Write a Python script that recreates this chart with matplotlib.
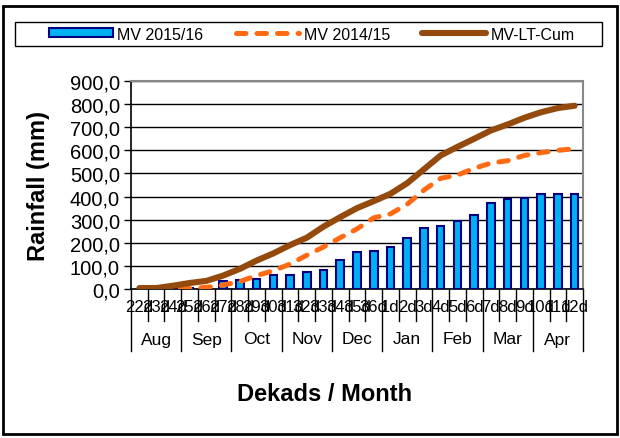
import matplotlib
matplotlib.use("Agg")
import matplotlib.pyplot as plt
from matplotlib.patches import Rectangle, Patch
from matplotlib.lines import Line2D
import matplotlib.transforms as mtrans

plt.rcParams['font.family'] = ['Liberation Sans', 'DejaVu Sans']

# dekads and months
dekads = ['22d', '23d', '24d', '25d', '26d', '27d', '28d', '29d', '30d',
          '31d', '32d', '33d', '34d', '35d', '36d', '1d', '2d', '3d',
          '4d', '5d', '6d', '7d', '8d', '9d', '10d', '11d', '12d']
months = ['Aug', 'Sep', 'Oct', 'Nov', 'Dec', 'Jan', 'Feb', 'Mar', 'Apr']

# cumulative rainfall (mm)
mv_2015 = [0, 0, 2, 3, 6, 33, 39, 44, 61, 61, 72, 84, 125, 158, 164,
           181, 222, 262, 274, 296, 320, 371, 390, 394, 411, 411, 411]
mv_2014 = [0, 0, 0, 2, 7, 17, 32, 58, 79, 108, 146, 182, 222, 260, 308,
           325, 367, 428, 479, 493, 522, 545, 555, 578, 590, 600, 607]
mv_lt = [4, 4, 14, 26, 35, 58, 87, 123, 154, 190, 222, 270, 311, 350, 380,
         412, 458, 518, 578, 615, 650, 686, 712, 741, 765, 783, 793]

fig = plt.figure(figsize=(6.2, 4.39), dpi=100)
ax = fig.add_axes([131/620, 1-290/439, 452/620, 208/439])

x = list(range(len(dekads)))
ax.bar(x, mv_2015, width=0.45, color='#00B0F0', edgecolor='#000080', linewidth=1.5, zorder=3)
ax.plot(x, mv_2014, color='#FF6A13', lw=3.6, linestyle=(0, (1.9, 2.2)),
        dash_capstyle='round', solid_capstyle='round', zorder=4)
ax.plot(x, mv_lt, color='#944A0C', lw=4.4, solid_capstyle='round',
        solid_joinstyle='round', zorder=5)

ax.set_xlim(-0.5, len(dekads) - 0.5)
ax.set_ylim(0, 900)
ax.set_yticks(range(0, 901, 100))
ax.set_yticklabels([f'{v},0' for v in range(0, 901, 100)], fontsize=14.5)
ax.yaxis.grid(True, color='black', lw=1)
ax.set_axisbelow(True)
ax.tick_params(axis='y', direction='out', length=5, width=1, pad=3)
for s in ['top', 'right']:
    ax.spines[s].set_color('#888888')
    ax.spines[s].set_linewidth(1.5)
ax.spines['left'].set_linewidth(1.2)
ax.spines['bottom'].set_linewidth(1.2)

# x axis: dekad labels, month labels and separators
ax.set_xticks(x)
ax.set_xticklabels(dekads, fontsize=12)
ax.tick_params(axis='x', length=0, pad=7)
trans = mtrans.blended_transform_factory(ax.transData, ax.transAxes)
ax_h = 208.0
for i in range(len(dekads) + 1):
    if i % 3 == 0:
        y_end = -62 / ax_h
    else:
        y_end = -32 / ax_h
    ax.plot([i - 0.5, i - 0.5], [0, y_end], color='black', lw=1,
            transform=trans, clip_on=False)
for j, m in enumerate(months):
    ax.text(3 * j + 1, -50 / ax_h, m, transform=trans, ha='center',
            va='center', fontsize=12.5)

ax.set_ylabel('Rainfall (mm)', fontsize=17, fontweight='bold', labelpad=14)
fig.text(325/620, 1-395/439, 'Dekads / Month', ha='center', va='center',
         fontsize=17, fontweight='bold')

# legend box, drawn by hand, with the entries centred inside
fig.patches.append(Rectangle((15/620, 1-47/439), 587/620, 24/439, fill=False,
                             edgecolor='black', lw=1, transform=fig.transFigure))
handles = [Patch(facecolor='#00B0F0', edgecolor='#000080', linewidth=1.5),
           Line2D([], [], color='#FF6A13', lw=3.6, linestyle=(0, (1.9, 2.2)),
                  dash_capstyle='round'),
           Line2D([], [], color='#944A0C', lw=4.4, solid_capstyle='round')]
fig.legend(handles, ['MV 2015/16', 'MV 2014/15', 'MV-LT-Cum'],
           loc='center', ncol=3, bbox_to_anchor=(312/620, 1-35/439),
           fontsize=11.5, handlelength=4.0, handleheight=0.5,
           frameon=False, columnspacing=2.0, handletextpad=0.3,
           borderpad=0)

# outer frame
fig.patches.append(Rectangle((3/620, 4/439), 614/620, 428/439, fill=False,
                             edgecolor='black', lw=2, transform=fig.transFigure))

fig.savefig('out.png', dpi=100)
